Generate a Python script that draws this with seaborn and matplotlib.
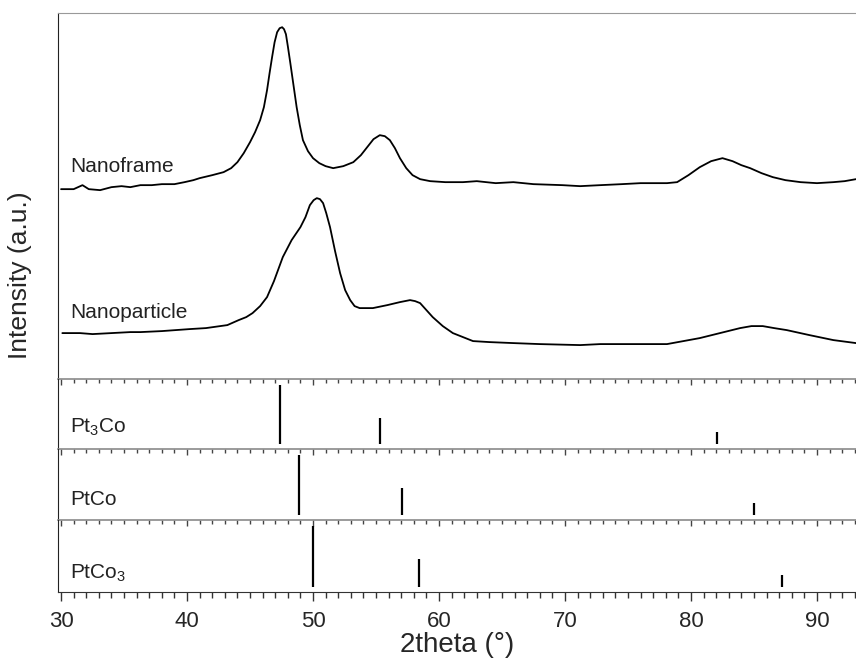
import matplotlib
matplotlib.use("Agg")
import matplotlib.pyplot as plt
import numpy as np
import pandas as pd
import seaborn as sns
from matplotlib.ticker import MultipleLocator

# XRD patterns (intensity in arbitrary units)
frame_2theta = [30.0, 31.0, 31.7, 32.2, 33.1, 34.0, 34.8, 35.5, 36.3, 37.2, 38.0, 39.0, 39.8,
                40.5, 41.0, 42.0, 42.9, 43.5, 44.0, 44.5, 45.0, 45.4, 45.8, 46.1, 46.35,
                46.55, 46.75, 46.95, 47.15, 47.35, 47.55, 47.7, 47.85, 48.0, 48.2, 48.45,
                48.7, 48.95, 49.2, 49.6, 50.0, 50.5, 51.0, 51.6, 52.4, 53.2, 53.8, 54.3,
                54.8, 55.3, 55.7, 56.1, 56.5, 56.9, 57.4, 57.9, 58.5, 59.3, 60.5, 61.9,
                63.0, 64.5, 65.9, 67.5, 69.8, 71.2, 72.8, 74.5, 76.0, 78.1, 78.9, 79.8,
                80.7, 81.6, 82.5, 83.3, 84.0, 84.7, 85.6, 86.5, 87.5, 88.7, 90.0, 91.3,
                92.2, 93.1]
frame_int = [190, 190, 194, 190, 189, 192, 193, 192, 194, 194, 195, 195, 197,
             199, 201, 204, 207, 211, 217, 226, 237, 247, 259, 272, 289,
             306, 322, 337, 347, 351, 352, 350, 345, 333, 316, 294,
             272, 254, 239, 228, 221, 216, 213, 211, 213, 217, 224, 232,
             240, 244, 243, 239, 231, 221, 211, 204, 200, 198, 197, 197,
             198, 196, 197, 195, 194, 193, 194, 195, 196, 196, 197, 204,
             212, 218, 221, 218, 214, 211, 206, 202, 199, 197, 196, 197,
             198, 200]

particle_2theta = [30.1, 31.5, 32.5, 34.0, 35.5, 36.3, 38.0, 40.2, 41.5, 43.2, 44.1, 44.7,
                   45.2, 45.8, 46.35, 46.9, 47.6, 48.3, 49.0, 49.4, 49.75, 50.05, 50.3,
                   50.55, 50.8, 51.05, 51.35, 51.75, 52.15, 52.55, 52.95, 53.3, 53.7, 54.75,
                   55.9, 56.9, 57.7, 58.1, 58.5, 59.0, 59.5, 60.3, 61.1, 62.7, 64.0, 65.9,
                   68.0, 71.2, 72.8, 75.0, 78.1, 79.4, 80.7, 82.3, 83.9, 84.8, 85.7, 86.6,
                   87.6, 89.4, 91.3, 93.1]
particle_int = [46, 46, 45, 46, 47, 47, 48, 50, 51, 54, 59, 62,
                66, 73, 82, 98, 122, 139, 152, 162, 174, 179, 181,
                180, 176, 166, 152, 128, 106, 89, 79, 73, 71, 71,
                74, 77, 79, 78, 76, 69, 62, 53, 46, 38, 37, 36,
                35, 34, 35, 35, 35, 38, 41, 46, 51, 53, 53, 51,
                49, 44, 39, 36]

# reference stick patterns
ref_names = ["Pt$_\\mathregular{3}$Co", "PtCo", "PtCo$_\\mathregular{3}$"]
ref_2theta = [[47.4, 55.3, 82.1], [48.9, 57.1, 85.0], [50.0, 58.4, 87.2]]
ref_int = [[100, 44, 20], [100, 45, 20], [100, 46, 20]]

sns.set_style("ticks")
plt.rcParams['font.family'] = ['Liberation Sans', 'DejaVu Sans']
plt.rcParams['mathtext.fontset'] = 'custom'
plt.rcParams['mathtext.rm'] = 'Liberation Sans'

fig, axes = plt.subplots(4, 1, figsize=(8.56, 6.61), dpi=100, sharex=True,
                         gridspec_kw=dict(height_ratios=[366, 70, 71, 72], hspace=0))
fig.subplots_adjust(left=0.0678, right=1.0, top=0.980, bottom=0.1044)

df = pd.concat([
    pd.DataFrame({"2theta": frame_2theta, "I": frame_int, "sample": "Nanoframe"}),
    pd.DataFrame({"2theta": particle_2theta, "I": particle_int, "sample": "Nanoparticle"}),
])

ax = axes[0]
sns.lineplot(data=df, x="2theta", y="I", units="sample", estimator=None,
             color="black", lw=1.3, ax=ax, legend=False, sort=False)
ax.set_ylim(0, 366)
ax.set_xlim(29.76, 93.1)
ax.text(30.7, 207, "Nanoframe", fontsize=15, va="baseline", color="#222222")
ax.text(30.7, 61, "Nanoparticle", fontsize=15, va="baseline", color="#222222")
ax.set_ylabel("")
ax.set_xlabel("")
ax.spines["top"].set_color("#999999")

label_y = [0.243, 0.206, 0.19]
for i in range(3):
    a = axes[i + 1]
    a.vlines(ref_2theta[i], 0, ref_int[i], color="black", lw=1.6)
    a.set_ylim(-8.5, 110)
    a.text(30.7, label_y[i], ref_names[i], fontsize=15, va="baseline", color="#222222",
           transform=a.get_xaxis_transform())

for i, a in enumerate(axes):
    a.patch.set_visible(False)
    a.set_yticks([])
    a.spines["right"].set_visible(False)
    a.spines["left"].set_color("#222222")
    a.xaxis.set_major_locator(MultipleLocator(10))
    a.xaxis.set_minor_locator(MultipleLocator(1))
    if i < 3:
        a.spines["bottom"].set_color("#8a8a8a")
        a.spines["bottom"].set_linewidth(1.2)
        a.tick_params(axis="x", which="major", direction="out", length=4.5, width=1, color="#444444")
        a.tick_params(axis="x", which="minor", direction="out", length=2.6, width=1, color="#444444")
        a.tick_params(axis="x", labelbottom=False)
    if i > 0:
        a.spines["top"].set_visible(False)

axb = axes[3]
axb.spines["bottom"].set_color("#333333")
axb.tick_params(axis="x", which="major", direction="out", length=6.5, width=1, color="#333333",
                labelsize=16, pad=7)
axb.tick_params(axis="x", which="minor", direction="out", length=4.3, width=1, color="#333333")
axb.set_xlabel("2theta (°)", fontsize=20, labelpad=0)

fig.text(0.0234, 0.584, "Intensity (a.u.)", rotation=90, fontsize=19, va="center", ha="center")

plt.savefig("out.png", dpi=100)
